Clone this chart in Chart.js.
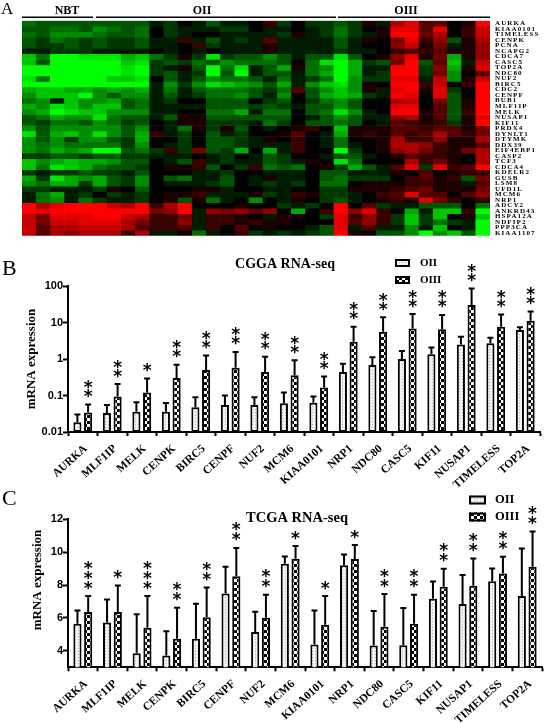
<!DOCTYPE html>
<html><head><meta charset="utf-8">
<style>html,body{margin:0;padding:0;background:#fff;width:546px;height:723px;overflow:hidden}
canvas{position:absolute;left:0;display:block}#a{filter:blur(0.5px)}</style>
<script src="https://cdn.jsdelivr.net/npm/chart.js@4"></script></head>
<body>
<canvas id="a" width="546" height="245" style="top:0"></canvas>
<canvas id="b" width="546" height="250" style="top:250px"></canvas>
<canvas id="c" width="546" height="243" style="top:480px"></canvas>
<script>
const heatGenes=["AURKA","KIAA0101","TIMELESS","CENPK","PCNA","NCAPG2","CDCA7","CASC5","TOP2A","NDC80","NUF2","BIRC5","CDC2","CENPF","BUB1","MLF1IP","MELK","NUSAP1","KIF11","PRDX4","DYNLT1","DTYMK","DDX39","EIF4EBP1","CASP2","TCF3","CDCA4","KDELR2","GUSB","LSM8","UFD1L","MCM6","NRP1","ADCY2","ANKRD43","HSPA12A","NDFIP2","PPP3CA","KIAA1107"];
const heatColumns=["N1","N2","N3","N4","N5","N6","N7","N8","N9","II1","II2","II3","II4","II5","II6","II7","II8","II9","II10","II11","II12","II13","III1","III2","III3","III4","III5","III6","III7","III8","III9","III10","III11"];
const heatValues=[
[-4,-3,-3,-3,-3,-3,-3,-3,-3,-1,-2,0,-1,-3,-1,-1,0,2,-2,0,-2,-2,-3,-2,1,-1,6,8,3,3,0,1,9],
[-3,-3,-4,-4,-3,-5,-4,-3,-4,0,-2,-1,-1,-1,-2,-2,0,-1,-1,0,-1,-2,-4,-2,0,1,8,8,3,8,0,2,7],
[-4,-3,-5,-5,-5,-4,-3,-3,-4,0,-2,-1,0,0,-1,-1,-1,-1,-2,1,-1,-2,-4,-2,-1,1,9,9,4,6,0,2,7],
[-3,-2,-4,-3,-2,-3,-2,-2,-3,-1,-1,2,-1,-3,-1,-2,-1,3,-1,-1,-1,-1,-3,-1,1,0,4,8,2,5,-3,1,6],
[-3,-2,-2,-3,-2,-3,-2,-2,-3,-1,-1,0,2,-2,-1,-1,-1,1,-1,-1,-1,-1,-3,-1,0,0,5,7,1,4,-1,1,5],
[-1,-1,-2,-2,-2,-1,-1,-1,-1,0,-1,0,-1,0,-1,-1,-1,1,-1,-1,-1,-1,-2,-1,-1,0,2,3,2,3,1,1,5],
[-7,-4,-9,-9,-8,-8,-8,-6,-7,-4,-2,1,-2,-8,-2,-3,-3,-5,-3,-1,-3,-3,-8,-3,0,1,5,8,1,4,-6,1,5],
[-7,-3,-9,-9,-9,-9,-9,-7,-8,-2,-3,-2,-4,-3,-5,-4,-4,-4,-3,0,-4,-8,-9,-6,-2,-3,4,9,-3,3,-7,-1,7],
[-9,-9,-9,-9,-9,-9,-9,-8,-9,-2,-1,1,-3,-9,-4,-8,-1,-3,-6,1,-4,-5,-9,-6,-1,-1,9,9,-2,5,-6,1,8],
[-9,-9,-9,-9,-9,-9,-9,-8,-9,-2,-3,-1,-2,-9,-3,-9,-1,-3,-3,-1,-4,-6,-9,-6,-1,-2,9,9,-2,4,-5,0,3],
[-8,-4,-9,-9,-9,-9,-7,-7,-8,0,-3,-1,-3,-5,-4,-4,-3,-1,-4,-1,-2,-4,-9,-5,-2,-2,8,8,-1,7,-5,1,7],
[-9,-9,-9,-9,-9,-9,-9,-9,-9,-1,-5,-2,-5,-8,-7,-6,-5,-3,-6,-1,-5,-7,-8,-5,1,0,9,9,2,7,0,2,9],
[-6,-7,-7,-6,-6,-5,-6,-5,-6,-1,-4,-1,-3,-4,-4,-4,-3,-2,-4,3,-3,-5,-7,-5,1,-1,8,9,1,8,-2,0,9],
[-5,-7,-7,-7,-9,-5,-3,-5,-5,-1,-3,-1,-2,-4,-4,-5,-3,-1,-5,0,-3,-6,-7,-6,-2,-1,9,8,0,8,-3,0,9],
[-4,-5,-1,-7,-5,-5,-6,-3,-4,-1,-2,0,0,-3,-3,-3,0,-2,-3,0,-2,-4,-5,-3,0,0,6,7,0,4,-3,1,9],
[-6,-5,-8,-7,-5,-7,-7,-3,-4,-1,-1,-1,-1,-3,-3,-3,-2,-3,-2,-1,-3,-3,-5,-3,0,0,8,8,0,3,-3,1,9],
[-5,-6,-9,-8,-7,-7,-5,-5,-5,-1,-1,0,0,-4,-4,-6,-1,-4,-4,0,-3,-4,-8,-5,-1,0,9,9,1,3,-3,2,9],
[-3,-4,-6,-5,-5,-8,-4,-3,-3,-1,-3,1,1,-3,-3,-3,-3,-3,-3,0,-1,-3,-5,-3,-1,-1,5,6,1,3,-3,1,8],
[-3,-2,-4,-4,-3,-5,-4,-2,-3,0,-1,1,1,-2,-2,-2,-1,-4,-2,0,-3,-3,-4,-3,0,-1,3,2,1,2,-2,1,9],
[-5,-3,-5,-5,-5,-5,-5,-3,-5,0,-1,-4,1,-2,1,-3,0,-1,0,1,2,0,-7,1,1,1,3,3,2,3,3,1,4],
[-8,-3,-6,-7,-5,-8,-5,-3,-6,2,-1,-2,0,-3,-1,-2,0,0,1,3,0,-1,-6,1,2,1,3,2,3,6,3,2,4],
[-5,-3,-5,-2,-5,-5,-3,-2,-6,0,0,-2,0,-3,-3,-2,-1,1,0,2,0,-1,-4,0,0,1,6,2,2,5,1,1,6],
[-5,-4,-5,-4,-4,-4,-4,-2,-5,0,-1,-2,0,-3,-3,-2,-1,-1,-1,2,0,-1,-4,-1,0,1,6,6,5,2,1,1,3],
[-5,-4,-6,-5,-6,-9,-9,-3,-4,-2,2,-2,4,-3,-2,-6,0,-6,-1,2,0,0,-9,-2,0,1,5,6,4,2,1,4,6],
[-2,-2,-3,-3,-2,-3,-3,-2,-2,-1,-1,-1,0,-1,-2,0,-1,-3,-2,0,0,-1,-3,-3,-1,0,1,3,2,2,1,0,6],
[-7,-5,-6,-7,-6,-6,-5,-3,-3,0,-1,-3,2,-1,-2,-1,-1,-3,-2,-1,1,0,-8,-4,0,0,0,6,2,4,1,0,6],
[-7,-4,-8,-7,-6,-4,-3,-3,-2,0,1,1,2,-3,0,-2,2,-4,-3,-4,0,1,-2,-6,-3,-1,3,8,-2,8,2,3,9],
[-2,-1,-2,-2,-3,-2,-2,-1,-3,0,0,0,-1,-1,-2,0,0,-1,-1,-1,0,-3,-3,-1,-1,-1,1,0,3,0,1,2,2],
[-6,-2,-8,-6,-5,-6,-3,-2,-5,0,-3,-4,-1,-1,-3,0,-1,1,-1,-1,0,-3,-4,-2,-2,-2,0,2,3,1,2,-3,4],
[-5,-4,-6,-6,-2,-6,-3,-2,-5,0,-1,-1,-1,-2,-3,0,-1,-2,-1,-2,0,-4,-4,0,1,1,1,2,2,1,1,-1,3],
[-2,-2,-1,-1,-1,-2,1,0,-3,0,0,0,1,1,-1,0,0,-1,-1,0,0,-2,-2,1,1,1,2,3,4,1,1,1,4],
[-1,-4,-6,-1,-2,0,-2,-1,-2,0,1,1,2,-1,-1,-1,1,-2,-1,2,1,-2,-2,-1,0,2,3,8,3,3,0,3,5],
[-1,-4,-5,-1,-4,-2,-1,-1,-2,0,1,-3,1,-4,-1,0,-5,0,-1,1,0,-2,-3,-1,0,1,2,1,8,4,2,0,2],
[9,6,8,9,9,9,7,6,9,2,6,9,0,0,0,1,0,0,-2,-1,-2,0,9,0,3,-2,-1,-1,-3,-3,-3,0,-4],
[9,8,9,9,9,9,9,9,9,4,5,9,-1,5,4,5,3,5,0,-6,0,2,9,5,8,2,0,-6,-1,-7,-7,2,-9],
[7,4,8,8,8,9,9,7,6,2,2,4,-1,2,2,1,0,-1,1,1,0,-2,8,2,5,2,-2,-7,-2,-7,0,1,-7],
[7,4,7,7,8,8,8,6,4,2,2,5,-1,2,2,1,2,1,1,0,0,0,8,3,5,2,-2,-7,-2,-4,-2,-1,-9],
[7,3,6,6,7,7,7,6,3,2,2,3,-1,2,0,3,0,1,0,0,-1,-3,8,-1,3,-1,-1,-5,-1,-7,0,-1,-9],
[7,3,6,5,6,6,6,2,6,-1,-1,0,-4,-1,0,2,-2,-1,-2,-1,-2,-3,9,1,0,-3,-3,-5,-9,-5,-7,-3,-9]
];
const geneLabels=["AURKA","MLF1IP","MELK","CENPK","BIRC5","CENPF","NUF2","MCM6","KIAA0101","NRP1","NDC80","CASC5","KIF11","NUSAP1","TIMELESS","TOP2A"];
const seriesNames=["OII","OIII"];
const cggaTicks=[0.01,0.1,1,10,100];
const cggaOII=[0.0184,0.033,0.036,0.036,0.048,0.055,0.055,0.061,0.063,0.44,0.68,1.0,1.35,2.5,2.7,6.2];
const cggaOIIErr=[0.03,0.055,0.065,0.062,0.09,0.1,0.09,0.12,0.094,0.74,1.12,1.65,2.05,4.1,3.8,7.4];
const cggaOIII=[0.034,0.094,0.12,0.3,0.5,0.58,0.44,0.36,0.166,2.95,5.6,6.8,6.5,30,7.6,11.2];
const cggaOIIIErr=[0.057,0.205,0.29,0.7,1.25,1.55,1.15,0.93,0.33,7.6,14,17,16,85,16.5,20];
const cggaStars=[2,2,1,2,2,2,2,2,2,2,2,2,2,2,2,2];
const tcgaTicks=[4,6,8,10,12];
const tcgaOII=[5.65,5.73,3.85,3.71,4.74,7.49,5.15,9.3,4.38,9.21,4.32,4.34,7.17,6.85,8.24,7.33];
const tcgaOIIErr=[6.46,7.13,6.22,5.19,6.87,9.11,6.38,9.74,6.46,9.86,6.42,6.6,8.22,8.61,9.01,10.23];
const tcgaOIII=[6.36,6.36,5.41,4.74,6.04,8.53,6.02,9.6,5.59,9.58,5.47,5.65,7.9,7.96,8.71,9.11];
const tcgaOIIIErr=[7.33,7.98,7.33,6.62,7.86,10.25,7.41,10.37,7.33,10.43,7.45,7.41,8.99,9.62,9.72,11.26];
const tcgaStars=[3,1,3,2,2,2,2,1,1,1,2,2,2,2,2,2];

const SERIF='"Liberation Serif","Times New Roman",serif';
const SANS='"Liberation Sans",Arial,sans-serif';
Chart.defaults.animation=false;
Chart.defaults.responsive=false;
Chart.defaults.color='#000';

function heatColor(v){const c=Math.round(Math.abs(v)/9*255);return v>=0?`rgb(${c},0,0)`:`rgb(0,${c},0)`;}
function text(ctx,s,x,y,font,align,rot){ctx.save();ctx.translate(x,y);if(rot)ctx.rotate(rot);ctx.font=font;ctx.fillStyle='#000';ctx.textAlign=align||'left';ctx.textBaseline='middle';ctx.fillText(s,0,0);ctx.restore();}

/* Heatmap: stacked unit bars coloured from heatValues */
new Chart(document.getElementById('a'),{
  type:'bar',
  data:{labels:heatColumns,datasets:heatGenes.map((g,r)=>({label:g,data:heatColumns.map(()=>1),
    backgroundColor:heatValues[r].map(heatColor),borderWidth:0,barPercentage:1,categoryPercentage:1}))},
  options:{
    layout:{padding:{left:22,right:0,top:20.7,bottom:9}},
    plugins:{legend:{display:false},tooltip:{enabled:false}},
    scales:{
      x:{stacked:true,display:false},
      y:{stacked:true,display:false,reverse:true,min:0,max:heatGenes.length},
      genes:{type:'category',axis:'y',position:'right',labels:heatGenes,offset:true,
        grid:{display:false,drawTicks:false},border:{display:false},
        afterFit:s=>{s.width=56;},
        ticks:{autoSkip:false,padding:5,maxRotation:0,minRotation:0,font:{family:SERIF,size:7,weight:'bold'},color:'#000'}}
    }
  },
  plugins:[{id:'groups',
   beforeDraw(ch){ch.ctx.letterSpacing='1.1px';},
   afterDraw(ch){
    const c=ch.ctx;c.letterSpacing='0px';c.save();c.strokeStyle='#000';c.lineWidth=1.5;
    [[22,93],[96,336],[338,490]].forEach(([a,b])=>{c.beginPath();c.moveTo(a,17.3);c.lineTo(b,17.3);c.stroke();});
    c.restore();
    const f='bold 12px '+SERIF;
    text(c,'NBT',67,10.5,f,'center');text(c,'OII',202,10.5,f,'center');text(c,'OIII',406,10.5,f,'center');
    text(c,'A',1,9.5,'17px '+SERIF,'left');
  }}]
});

/* fill patterns */
function patDots(){const p=document.createElement('canvas');p.width=3;p.height=3;const x=p.getContext('2d');
  x.fillStyle='#f2f2f0';x.fillRect(0,0,3,3);x.fillStyle='#b4b4b0';x.fillRect(0,0,1,1);return x.createPattern(p,'repeat');}
function patCheck(){const p=document.createElement('canvas');p.width=6;p.height=6;const x=p.getContext('2d');
  x.fillStyle='#fff';x.fillRect(0,0,6,6);x.fillStyle='#000';x.fillRect(0,0,3,3);x.fillRect(3,3,3,3);return x.createPattern(p,'repeat');}
const fillOII=patDots(),fillOIII=patCheck();

function barChart(id,o){
  const starGap=o.starGap;
  return new Chart(document.getElementById(id),{
    type:'bar',
    data:{labels:geneLabels,datasets:[
      {label:seriesNames[0],data:o.a,err:o.aErr,backgroundColor:fillOII,borderColor:'#000',borderWidth:2,borderSkipped:false,categoryPercentage:0.725,barPercentage:0.76,inflateAmount:0},
      {label:seriesNames[1],data:o.b,err:o.bErr,backgroundColor:fillOIII,borderColor:'#000',borderWidth:2,borderSkipped:false,categoryPercentage:0.725,barPercentage:0.76,inflateAmount:0}
    ]},
    options:{
      layout:{padding:o.pad},
      plugins:{legend:{display:false},tooltip:{enabled:false}},
      scales:{
        x:{grid:{display:true,drawOnChartArea:false,drawTicks:true,tickLength:4,tickWidth:2,tickColor:'#000'},
           border:{color:'#000',width:2},
           afterFit:s=>{s.height=o.xH;},
           ticks:{autoSkip:false,minRotation:42,maxRotation:42,padding:6,labelOffset:3,font:{family:SERIF,size:11.5,weight:'bold'},color:'#000'}},
        y:Object.assign({grid:{display:true,drawOnChartArea:false,drawTicks:true,tickLength:5,tickWidth:2,tickColor:'#000'},
           border:{color:'#000',width:2},
           afterFit:s=>{s.width=68;},
           afterBuildTicks:s=>{s.ticks=o.ticks.map(v=>({value:v,major:true}));},
           ticks:{padding:0,font:{family:SANS,size:11,weight:'bold'},color:'#000',autoSkip:false,callback:v=>String(v)}},o.y)
      }
    },
    plugins:[{id:'extras',afterDatasetsDraw(ch){
      const c=ch.ctx,ys=ch.scales.y;
      c.save();c.strokeStyle='#000';c.lineWidth=2;c.lineCap='butt';
      ch.data.datasets.forEach((d,i)=>{ch.getDatasetMeta(i).data.forEach((el,k)=>{
        const top=ys.getPixelForValue(d.err[k]),v=ys.getPixelForValue(d.data[k]);
        c.beginPath();c.moveTo(el.x,v);c.lineTo(el.x,top);c.moveTo(el.x-3,top);c.lineTo(el.x+3,top);c.stroke();
      });});
      c.restore();
      const m=ch.getDatasetMeta(1);
      o.stars.forEach((n,k)=>{const x=m.data[k].x,top=ys.getPixelForValue(o.bErr[k]);
        for(let j=0;j<n;j++) text(c,'*',x,top-o.starOff-j*starGap+3,'bold 17px "DejaVu Sans"','center');});
      const lg=o.legend;
      seriesNames.forEach((nm,i)=>{
        c.save();c.fillStyle=i?fillOIII:fillOII;c.strokeStyle='#000';c.lineWidth=2;
        c.fillRect(lg.x,lg.y[i],lg.w,lg.h);c.strokeRect(lg.x+1,lg.y[i]+1,lg.w-2,lg.h-2);c.restore();
        text(c,nm,lg.tx,lg.y[i]+lg.h/2,'bold '+lg.fs+'px '+SERIF,'left');
      });
      text(c,o.title,o.titleX,o.titleY,'bold '+o.titleFs+'px '+SERIF,'center');
      text(c,'mRNA expression',o.yTitleX,o.yTitleY,'bold 13px '+SERIF,'center',-Math.PI/2);
      text(c,o.letter,2,o.letterY,'22px '+SERIF,'left');
    }}]
  });
}
barChart('b',{a:cggaOII,aErr:cggaOIIErr,b:cggaOIII,bErr:cggaOIIIErr,stars:cggaStars,ticks:cggaTicks,
  y:{type:'logarithmic',min:0.01,max:100},
  pad:{left:0,right:6,top:36,bottom:0},xH:68,starGap:9,starOff:10,
  legend:{x:395,y:[9,26],w:15,h:8,tx:420,fs:11},
  title:'CGGA RNA-seq',titleX:285,titleY:14,titleFs:14,yTitleX:32,yTitleY:109,letter:'B',letterY:19});
barChart('c',{a:tcgaOII,aErr:tcgaOIIErr,b:tcgaOIII,bErr:tcgaOIIIErr,stars:tcgaStars,ticks:tcgaTicks,
  y:{type:'linear',min:3,max:12},
  pad:{left:0,right:4,top:39.3,bottom:0},xH:55.7,starGap:10,starOff:10,
  legend:{x:469,y:[15.5,32.5],w:17,h:9,tx:495,fs:12.5},
  title:'TCGA RNA-seq',titleX:297,titleY:38,titleFs:14.5,yTitleX:38,yTitleY:100,letter:'C',letterY:19});
</script>
</body></html>
